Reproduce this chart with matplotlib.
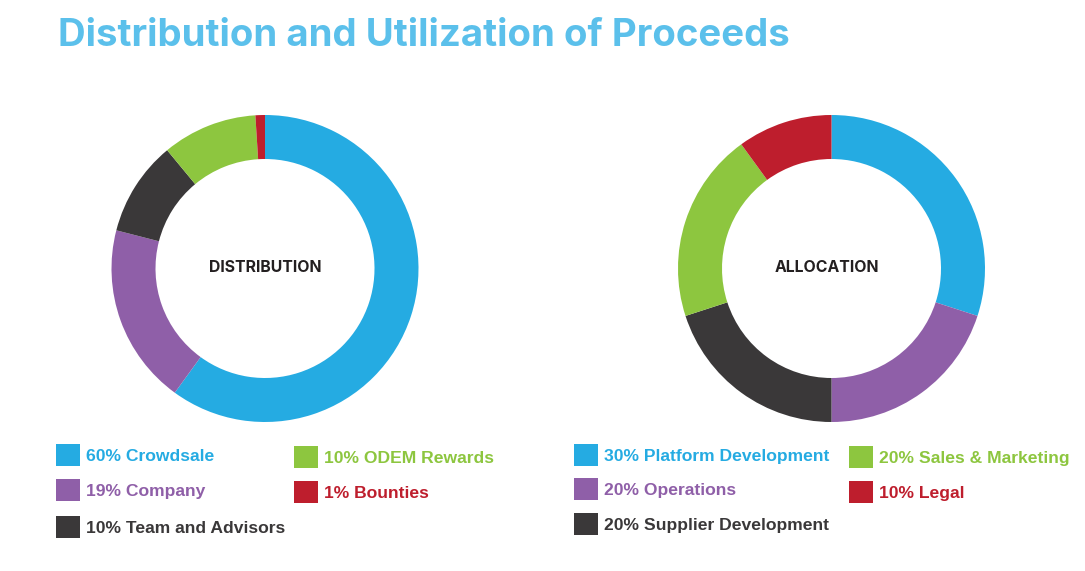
import matplotlib.pyplot as plt
from matplotlib.patches import Rectangle

W, H = 1085, 571

BLUE = '#25ABE2'
GREEN = '#8DC63F'
PURPLE = '#8F5FA8'
RED = '#BE1E2D'
DARK = '#3A3839'

dist_values = [60, 19, 10, 10, 1]
dist_colors = [BLUE, PURPLE, DARK, GREEN, RED]
alloc_values = [30, 20, 20, 20, 10]
alloc_colors = [BLUE, PURPLE, DARK, GREEN, RED]

dist_legend = ['60% Crowdsale', '19% Company', '10% Team and Advisors', '10% ODEM Rewards', '1% Bounties']
alloc_legend = ['30% Platform Development', '20% Operations', '20% Supplier Development',
                '20% Sales & Marketing', '10% Legal']

plt.rcParams['font.family'] = ['Liberation Sans', 'DejaVu Sans']

fig = plt.figure(figsize=(W / 100, H / 100), dpi=100)
bg = fig.add_axes([0, 0, 1, 1])
bg.set_xlim(0, W)
bg.set_ylim(H, 0)
bg.axis('off')


def donut(cx, cy, r, values, colors, label, lx):
    ax = fig.add_axes([(cx - r) / W, 1 - (cy + r) / H, 2 * r / W, 2 * r / H])
    ax.pie(values, colors=colors, startangle=90, counterclock=False, radius=1,
           wedgeprops={'width': 44 / r, 'linewidth': 0})
    ax.set_xlim(-1, 1)
    ax.set_ylim(-1, 1)
    bg.text(lx, 267.5, label, ha='center', va='center', fontsize=11.4,
            fontweight='bold', color='#231F20', family=['Inter', 'DejaVu Sans'])


def legend_item(x, y, text, color):
    bg.add_patch(Rectangle((x, y - 11), 24, 22, facecolor=color, linewidth=0))
    bg.text(x + 30, y + 1.5, text, ha='left', va='center', fontsize=12.6,
            fontweight='bold', color=color)


bg.text(58, 36, 'Distribution and Utilization of Proceeds', ha='left', va='center',
        fontsize=27.6, fontweight='bold', color='#5BC0EB', family=['Inter', 'DejaVu Sans'])

donut(265, 268.5, 153.5, dist_values, dist_colors, 'DISTRIBUTION', 265)
donut(831.5, 268.5, 153.5, alloc_values, alloc_colors, 'ALLOCATION', 826.5)

for (x, y), t, c in zip([(56, 455), (56, 490), (56, 527), (294, 457), (294, 492)], dist_legend, dist_colors):
    legend_item(x, y, t, c)
for (x, y), t, c in zip([(574, 455), (574, 489), (574, 524), (849, 457), (849, 492)], alloc_legend, alloc_colors):
    legend_item(x, y, t, c)

fig.savefig('out.png', dpi=100, facecolor='white')
